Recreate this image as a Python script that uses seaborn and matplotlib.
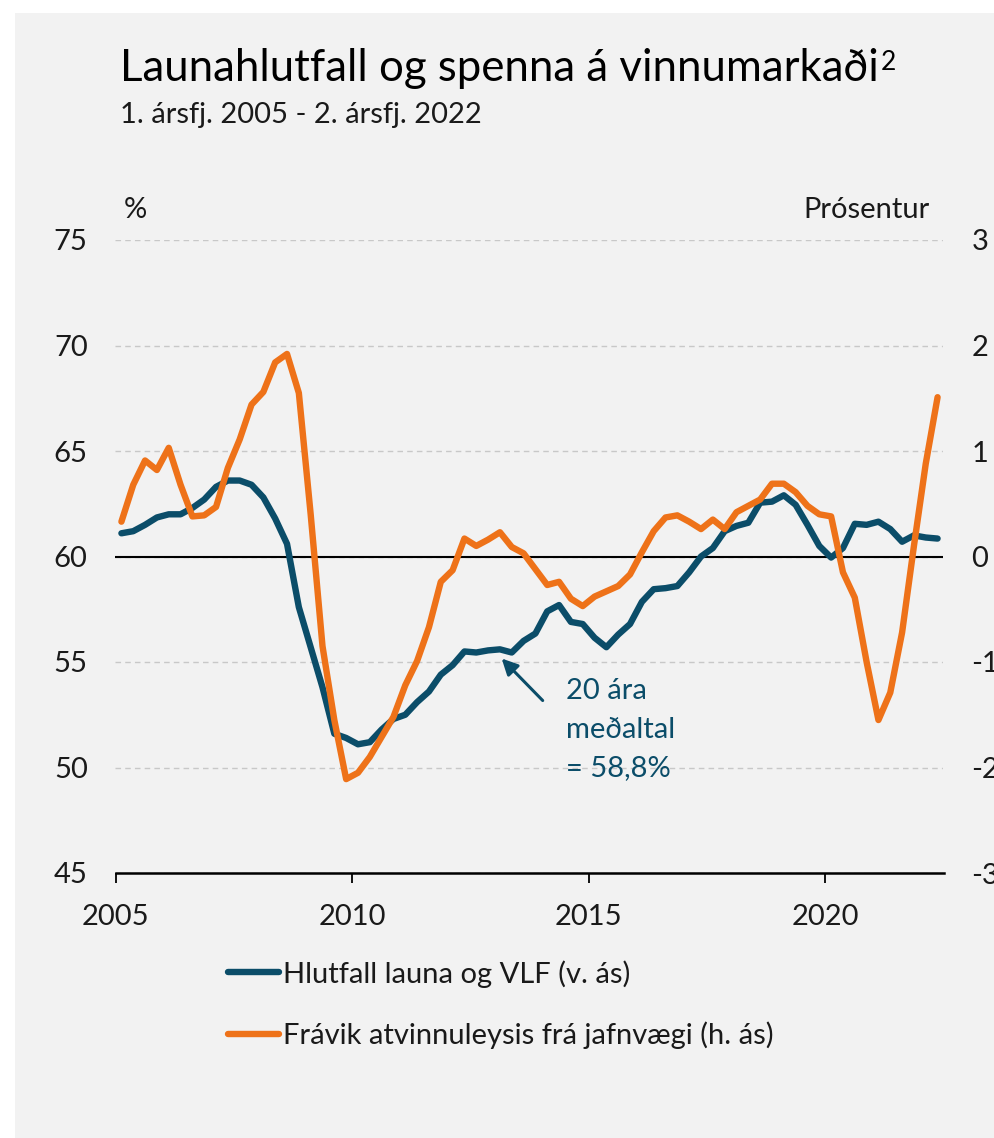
import numpy as np
import pandas as pd
import matplotlib
matplotlib.use("Agg")
import matplotlib.pyplot as plt
import seaborn as sns
from matplotlib.patches import Rectangle

# ársfjórðungar 1. ársfj. 2005 - 2. ársfj. 2022
quarters = pd.period_range("2005Q1", "2022Q2", freq="Q")

# Hlutfall launa og VLF (%), vinstri ás
launahlutfall = [61.1, 61.2, 61.5, 61.85, 62.0, 62.0, 62.3, 62.7, 63.3, 63.6,
                 63.6, 63.4, 62.8, 61.8, 60.6, 57.6, 55.7, 53.8, 51.6, 51.4,
                 51.1, 51.2, 51.8, 52.3, 52.5, 53.1, 53.6, 54.4, 54.85, 55.5,
                 55.45, 55.55, 55.6, 55.45, 56.0, 56.35, 57.4, 57.7, 56.9, 56.8,
                 56.15, 55.7, 56.3, 56.8, 57.85, 58.45, 58.5, 58.6, 59.25, 60.0,
                 60.4, 61.2, 61.45, 61.6, 62.55, 62.6, 62.9, 62.45, 61.5, 60.5,
                 59.95, 60.4, 61.55, 61.5, 61.65, 61.3, 60.7, 61.0, 60.9, 60.85]

# Frávik atvinnuleysis frá jafnvægi (prósentur), hægri ás
fravik = [0.33, 0.68, 0.91, 0.82, 1.03, 0.68, 0.38, 0.39, 0.47, 0.84,
          1.11, 1.44, 1.56, 1.84, 1.92, 1.55, 0.40, -0.85, -1.55, -2.11,
          -2.05, -1.90, -1.71, -1.52, -1.22, -0.99, -0.67, -0.24, -0.13, 0.17,
          0.10, 0.16, 0.23, 0.09, 0.03, -0.12, -0.27, -0.24, -0.40, -0.47,
          -0.38, -0.33, -0.28, -0.17, 0.04, 0.24, 0.37, 0.39, 0.33, 0.26,
          0.35, 0.26, 0.42, 0.48, 0.54, 0.69, 0.69, 0.61, 0.48, 0.40,
          0.38, -0.15, -0.39, -1.00, -1.55, -1.29, -0.72, 0.10, 0.88, 1.51]

left_ticks = [45, 50, 55, 60, 65, 70, 75]
right_ticks = [-3, -2, -1, 0, 1, 2, 3]
year_ticks = [2005, 2010, 2015, 2020]

label_blue = "Hlutfall launa og VLF (v. ás)"
label_orange = "Frávik atvinnuleysis frá jafnvægi (h. ás)"

blue = "#0b4d69"
orange = "#ee7219"
txt = "#1a1a1a"

df = pd.DataFrame({
    "ar": [q.year + (q.quarter - 0.5) / 4 for q in quarters],
    "laun": launahlutfall,
    "fravik": fravik,
})

sns.set_theme(style="white")
plt.rcParams["font.family"] = ["Lato", "DejaVu Sans"]
plt.rcParams["axes.unicode_minus"] = False
fs = 21

fig = plt.figure(figsize=(9.95, 11.38), dpi=100, facecolor="white")
fig.patches.append(Rectangle((15 / 995, 0), 1, 1 - 13 / 1138, transform=fig.transFigure,
                             facecolor="#f2f2f2", edgecolor="none", zorder=-10))

ax = fig.add_axes([115.5 / 995, 1 - 873 / 1138, 828 / 995, 633 / 1138])
ax.set_facecolor("none")
ax2 = ax.twinx()

sns.lineplot(data=df, x="ar", y="laun", ax=ax, color=blue, lw=4.6, zorder=4)
sns.lineplot(data=df, x="ar", y="fravik", ax=ax2, color=orange, lw=4.6, zorder=4)

ax.set_xlim(2005, 2022.5)
ax.set_ylim(45, 75)
ax2.set_ylim(-3, 3)
ax.set_xlabel("")
ax.set_ylabel("")
ax2.set_ylabel("")

ax.set_yticks(left_ticks)
ax.set_yticklabels([str(t) for t in left_ticks])
ax2.set_yticks(right_ticks)
ax2.set_yticklabels([str(t) for t in right_ticks])
ax.set_xticks(year_ticks)
ax.set_xticklabels([str(t) for t in year_ticks])

ax.yaxis.grid(True, ls=(0, (4, 3)), color="#c8c8c8", lw=1.0)
ax.set_axisbelow(True)
ax.axhline(60, color="black", lw=1.5, zorder=2)

for a in (ax, ax2):
    for s in ("top", "left", "right"):
        a.spines[s].set_visible(False)
ax2.spines["bottom"].set_visible(False)
ax.spines["bottom"].set_color("black")
ax.spines["bottom"].set_linewidth(1.8)

ax.tick_params(axis="y", length=0, pad=20, labelsize=fs, labelcolor=txt)
ax2.tick_params(axis="y", length=0, pad=20, labelsize=fs, labelcolor=txt)
ax.tick_params(axis="x", length=7, width=1.3, color="black", direction="out",
               pad=15, labelsize=fs, labelcolor=txt, bottom=True)

# merking: 20 ára meðaltal
ax.annotate("", xy=(2013.12, 55.26), xytext=(2014.07, 53.08),
            arrowprops=dict(arrowstyle="-|>", color=blue, lw=2.2, mutation_scale=24))
ax.text(2014.52, 51.8, "20 ára\nmeðaltal\n= 58,8%", color=blue, fontsize=fs,
        ha="left", va="center", linespacing=1.58)

# titlar
t = fig.text(120 / 995, 1 - 81 / 1138, "Launahlutfall og spenna á vinnumarkaði",
             fontsize=31.5, color="black", ha="left", va="baseline")
fig.canvas.draw()
bb = t.get_window_extent(fig.canvas.get_renderer())
fig.text(bb.x1 / fig.bbox.width + 0.002, 1 - 70 / 1138, "2", fontsize=19,
         color="black", ha="left", va="baseline")
fig.text(120 / 995, 1 - 123 / 1138, "1. ársfj. 2005 - 2. ársfj. 2022",
         fontsize=fs, color=txt, ha="left", va="baseline")
fig.text(124 / 995, 1 - 218 / 1138, "%", fontsize=fs, color=txt, ha="left", va="baseline")
fig.text(930 / 995, 1 - 218 / 1138, "Prósentur", fontsize=fs, color=txt, ha="right", va="baseline")

handles = [ax.lines[0], ax2.lines[0]]
fig.legend(handles, [label_blue, label_orange], loc="upper left",
           bbox_to_anchor=(228 / 995, 1 - 960 / 1138), frameon=False, fontsize=fs,
           handlelength=1.75, handletextpad=0.12, labelspacing=1.15,
           borderpad=0, borderaxespad=0, labelcolor=txt)

fig.savefig("out.png", dpi=100, facecolor=fig.get_facecolor())
